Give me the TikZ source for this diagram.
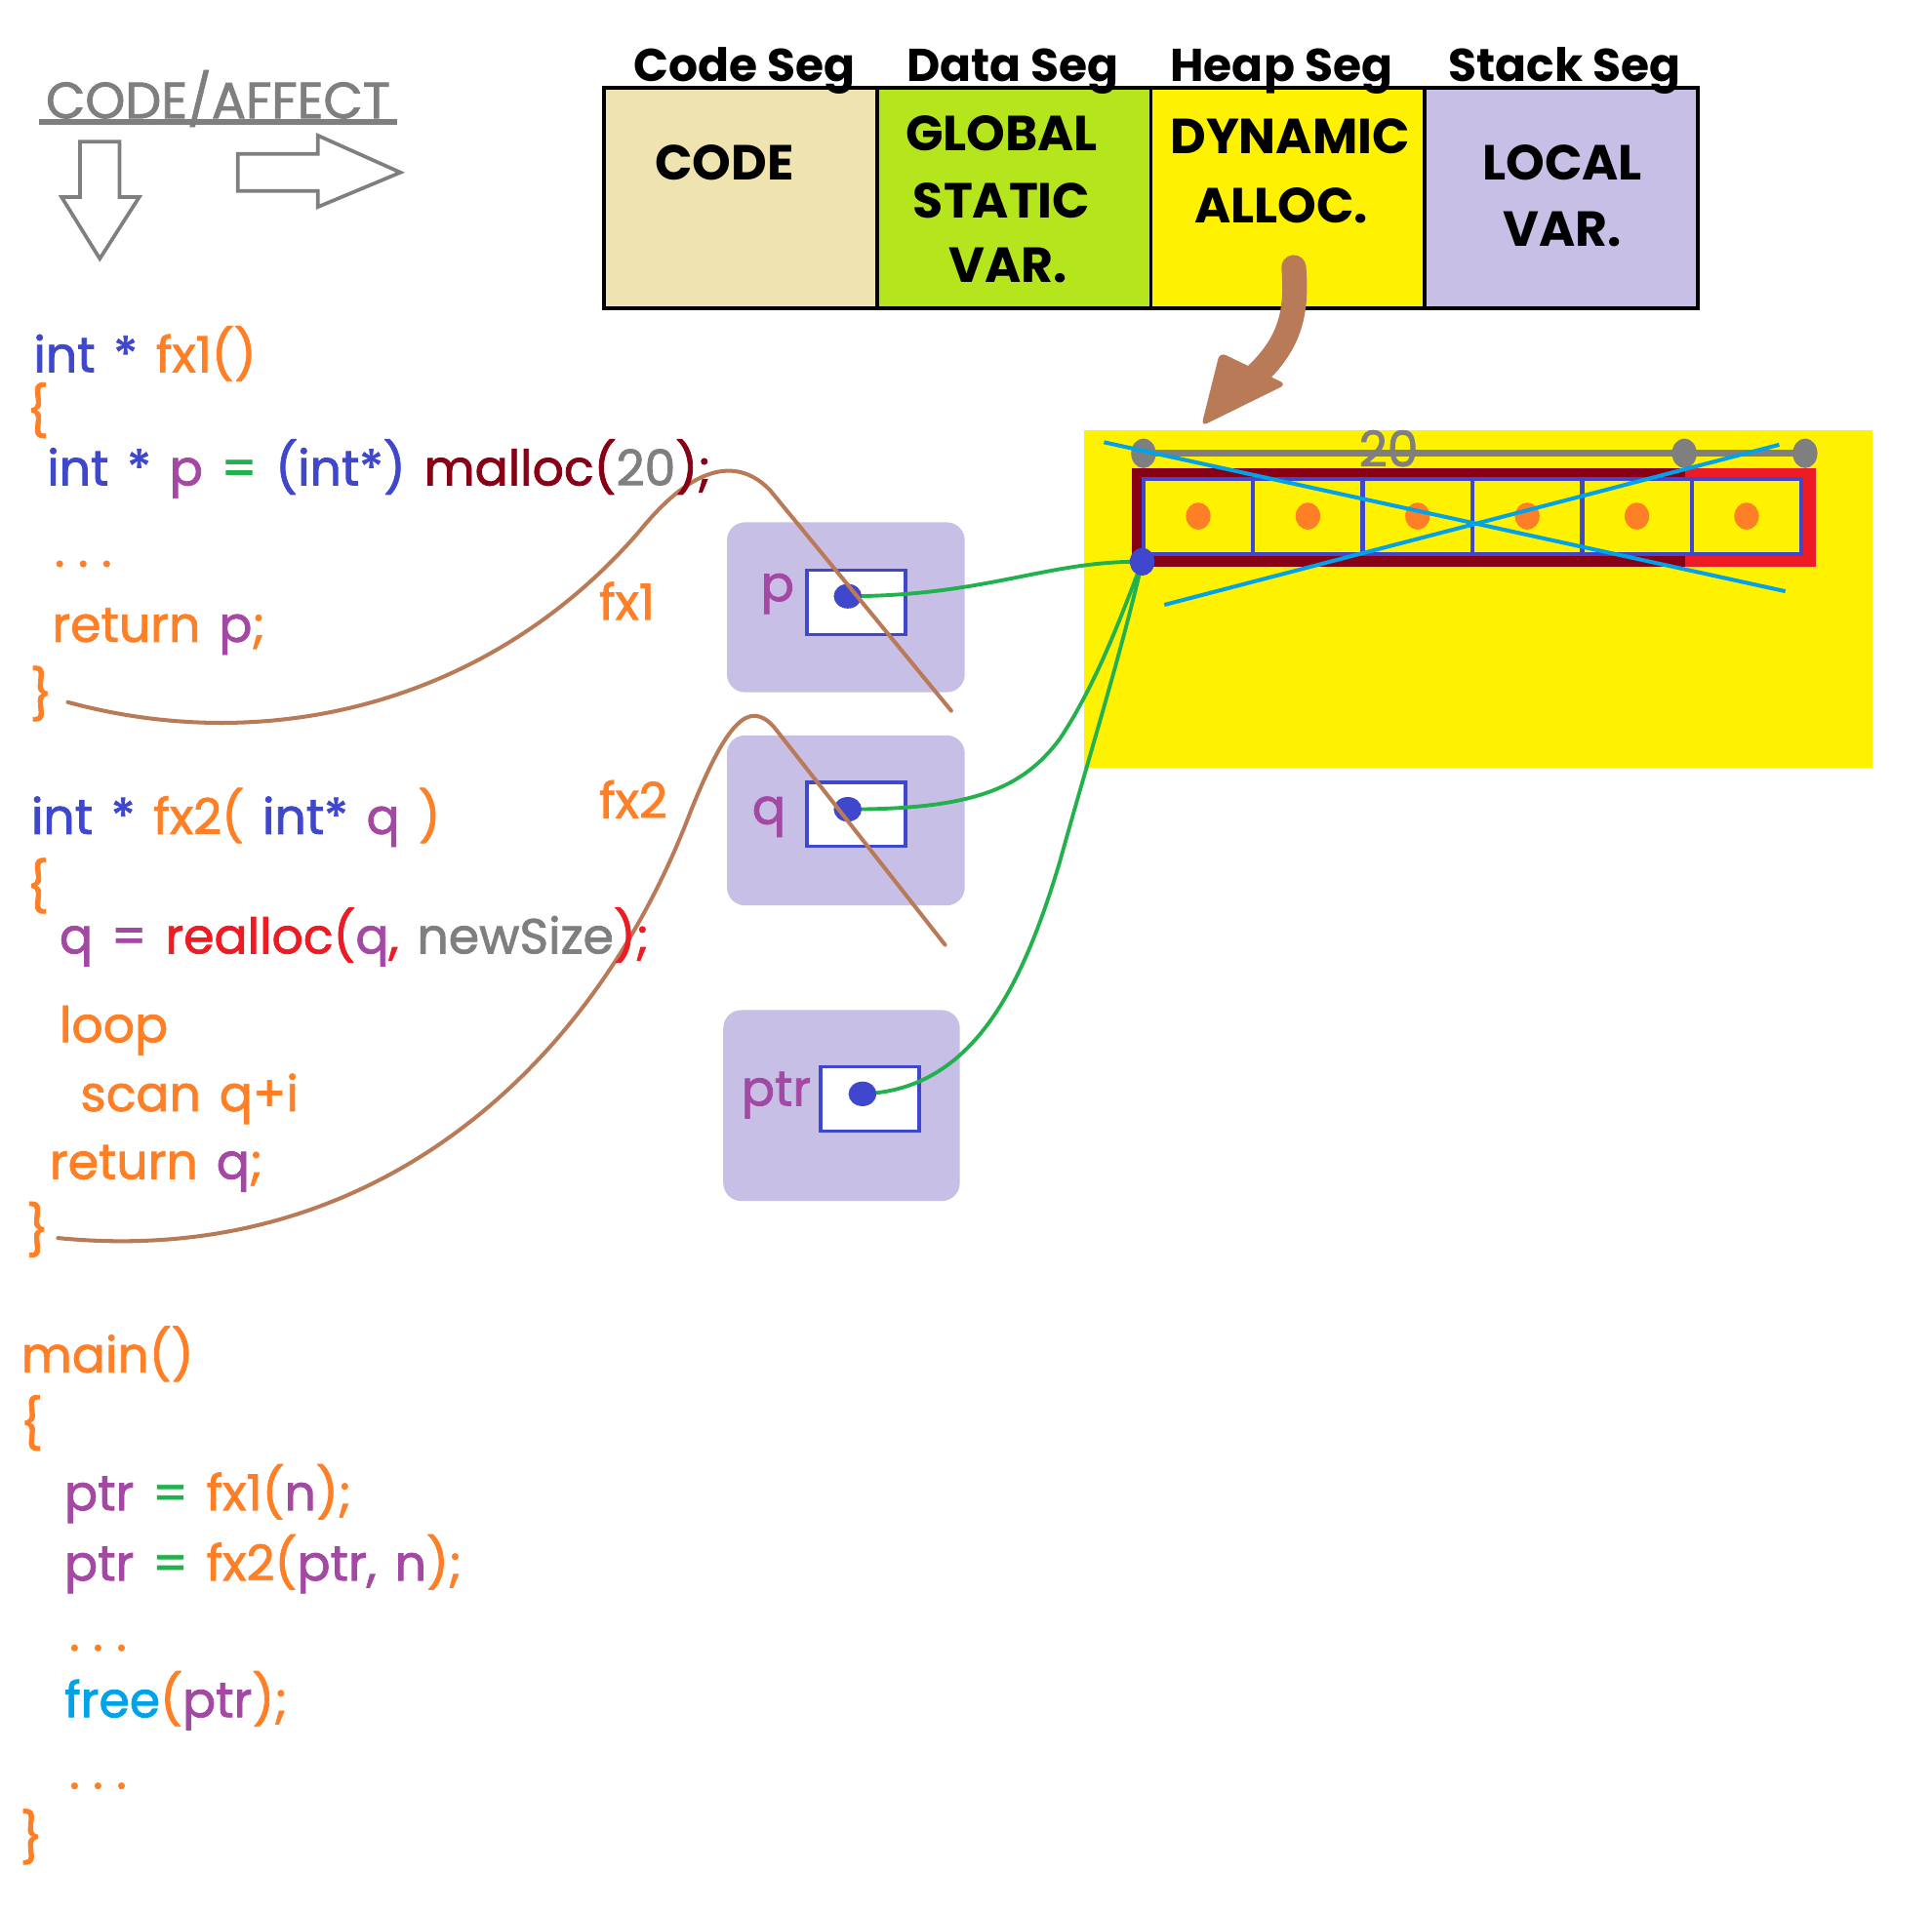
\documentclass[tikz,border=0pt]{standalone}
\usepackage{fontspec}
\setmainfont{Poppins}
\newfontfamily\codefont{Poppins}[FakeBold=1.6, WordSpace=1.4]
\usepackage{tikz}
\usetikzlibrary{positioning, calc, shapes.geometric}

\definecolor{cblue}{RGB}{63,72,204}
\definecolor{corange}{RGB}{255,127,39}
\definecolor{cpurple}{RGB}{163,73,164}
\definecolor{cgreen}{RGB}{34,177,76}
\definecolor{cdred}{RGB}{136,0,21}
\definecolor{cred}{RGB}{237,28,36}
\definecolor{cgray}{RGB}{127,127,127}
\definecolor{ccyan}{RGB}{0,162,232}
\definecolor{cbrown}{RGB}{185,122,87}
\definecolor{cbeige}{RGB}{239,228,176}
\definecolor{clime}{RGB}{181,230,29}
\definecolor{cyellow}{RGB}{255,242,0}
\definecolor{clav}{RGB}{200,191,231}

\newcommand{\ckw}[1]{\textcolor{cblue}{#1}}
\newcommand{\cfn}[1]{\textcolor{corange}{#1}}
\newcommand{\cvr}[1]{\textcolor{cpurple}{#1}}
\newcommand{\ceq}[1]{\textcolor{cgreen}{#1}}
\newcommand{\cnum}[1]{\textcolor{cgray}{#1}}
\newcommand{\cmal}[1]{\textcolor{cdred}{#1}}
\newcommand{\crea}[1]{\textcolor{cred}{#1}}
\newcommand{\cfre}[1]{\textcolor{ccyan}{#1}}
\newcommand{\cdotsep}{\cfn{.\hspace{8pt}.\hspace{8pt}.}}

\tikzset{
	code/.style={anchor=base west, inner sep=0.75pt, font=\codefont\fontsize{30}{32}\selectfont},
	seghead/.style={anchor=base, inner sep=0.75pt, font=\fontsize{28}{30}\selectfont\bfseries},
	segtext/.style={inner sep=0.75pt, font=\fontsize{30}{32}\selectfont\bfseries},
	segbox/.style={draw=black, line width=2.25pt},
	frame/.style={fill=clav, rounded corners=11pt},
	ptrbox/.style={draw=cblue, fill=white, line width=2pt, minimum width=60pt, minimum height=39pt, inner sep=0pt},
	ptrdot/.style={ellipse, fill=cblue, minimum width=17pt, minimum height=15pt, inner sep=0pt},
	ptrline/.style={draw=cgreen, line width=2.3pt},
	vname/.style={inner sep=0.75pt, text=cpurple, font=\codefont\fontsize{30}{32}\selectfont},
	cell/.style={draw=cblue, fill=cyellow, line width=2.6pt},
	crossout/.style={draw=cbrown, line width=2.4pt, line cap=round},
	bigarrow/.style={draw=cgray, line width=2.2pt, line join=miter}
}

\begin{document}
\begin{tikzpicture}[x=0.75pt,y=0.75pt,yscale=-1,xscale=1]
	\useasboundingbox (0,0) rectangle (1568,1552);
	
	% Text Node
	\node[inner sep=0.75pt, text=cgray, font=\codefont\fontsize{31}{32}\selectfont] (legend) at (177,80) {CODE/AFFECT};
	\draw[cgray, line width=3pt] (32,99) -- (322,99);
	%Shape: Down Arrow
	\draw[bigarrow] (65,115) -- (97,115) -- (97,160) -- (113,160) -- (81,210) -- (50,160) -- (65,160) -- cycle;
	%Shape: Right Arrow
	\draw[bigarrow] (193,125) -- (258,125) -- (258,110) -- (325,140) -- (258,168) -- (258,155) -- (193,155) -- cycle;
	
	%Shape: Rectangle [segments]
	\draw[segbox, fill=cbeige] (490,71) rectangle (712,250);
	\draw[segbox, fill=clime] (712,71) rectangle (934,250);
	\draw[segbox, fill=cyellow] (934,71) rectangle (1156,250);
	\draw[segbox, fill=clav] (1156,71) rectangle (1378,250);
	% Text Node
	\node[seghead] (hcode) at (604,66) {Code Seg};
	\node[seghead] (hdata) at (822,66) {Data Seg};
	\node[seghead] (hheap) at (1040,66) {Heap Seg};
	\node[seghead] (hstack) at (1270,66) {Stack Seg};
	% Text Node
	\node[segtext] (tcode) at (588,132) {CODE};
	\node[segtext] (tglobal) at (813,108) {GLOBAL};
	\node[segtext] (tstatic) at (813,163) {STATIC};
	\node[segtext] (tvar) at (818,215) {VAR.};
	\node[segtext] (tdyn) at (1047,111) {DYNAMIC};
	\node[segtext] (talloc) at (1040,167) {ALLOC.};
	\node[segtext] (tlocal) at (1268,132) {LOCAL};
	\node[segtext] (tlvar) at (1268,186) {VAR.};
	
	%Shape: Rectangle [heap area]
	\fill[cyellow] (880,349) rectangle (1520,623);
	%Shape: hand drawn arrow
	\draw[cbrown, line width=15pt, line cap=round] (1050,217) .. controls (1054,265) and (1042,290) .. (995,325);
	\fill[cbrown, rounded corners=4pt] (990,286) -- (1044,312) -- (975,346) -- cycle;
	
	%Shape: Rectangle [block]
	\fill[cdred] (919,380) rectangle (1369,460);
	\fill[cred] (1368,380) rectangle (1474,460);
	\foreach \i in {0,...,5} {
		\draw[cell] ({928+89*\i},389) rectangle ++(89,61);
		\fill[corange] ({972.5+89*\i},419) ellipse [x radius=10, y radius=11];
	}
	%Straight Lines [size bar]
	\draw[cgray, line width=4.5pt] (928,368) -- (1465,368);
	\foreach \x in {928,1367,1465}
		\fill[cgray] (\x,368) ellipse [x radius=10, y radius=12];
	\node[inner sep=0.75pt, text=cgray, font=\codefont\fontsize{30}{32}\selectfont] (size) at (1127,364) {20};
	
	%Shape: Rounded Rectangle [frames]
	\fill[frame] (590,424) rectangle (783,562);
	\fill[frame] (590,597) rectangle (783,735);
	\fill[frame] (587,820) rectangle (779,975);
	\node[ptrbox] (boxp) at (695,489) {};
	\node[ptrbox] (boxq) at (695,661) {};
	\node[ptrbox] (boxptr) at (706,892) {};
	\node[vname] (np) at (631,482) {p};
	\node[vname] (nq) at (624,663) {q};
	\node[vname] (nptr) at (630,889) {ptr};
	
	%Curve Lines [pointers]
	\coordinate (heapstart) at (927,456);
	\draw[ptrline] (688,484) .. controls (800,484) and (850,455) .. (heapstart);
	\draw[ptrline] (688,657) .. controls (790,657) and (830,640) .. (860,600) .. controls (890,555) and (910,500) .. (heapstart);
	\draw[ptrline] (700,888) .. controls (790,885) and (830,800) .. (860,700) .. controls (885,610) and (910,530) .. (heapstart);
	\node[ptrdot] (dotp) at (688,484) {};
	\node[ptrdot] (dotq) at (688,657) {};
	\node[ptrdot] (dotptr) at (700,888) {};
	\node[ellipse, fill=cblue, minimum width=15pt, minimum height=17pt, inner sep=0pt] (heapdot) at (heapstart) {};
	
	%Straight Lines [freed]
	\draw[ccyan, line width=2.4pt] (896,359) -- (1449,480);
	\draw[ccyan, line width=2.4pt] (945,491) -- (1444,361);
	
	%Curve Lines [stack frames popped]
	\draw[crossout] (55,570) .. controls (220,615) and (400,570) .. (520,430) .. controls (565,375) and (600,372) .. (625,398) -- (772,577);
	\draw[crossout] (47,1005) .. controls (300,1030) and (480,870) .. (560,660) .. controls (590,585) and (608,568) .. (628,590) -- (767,767);
	% Text Node
	\node[code, text=corange] (lfx1) at (485,503) {fx1};
	\node[code, text=corange] (lfx2) at (485,664) {fx2};
	
	% Text Node [fx1]
	\node[code] (a1) at (26,302) {\ckw{int * }\cfn{fx1()}};
	\node[code] (a2) at (20,348) {\cfn{\{}};
	\node[code] (a3) at (37,394) {\ckw{int * }\cvr{p} \ceq{=} \ckw{(int*)} \cmal{malloc(}\cnum{20}\cmal{);}};
	\node[code] (a4) at (43,460) {\cdotsep};
	\node[code] (a5) at (41,521) {\cfn{return} \cvr{p}\cfn{;}};
	\node[code] (a6) at (23,578) {\cfn{\}}};
	% Text Node [fx2]
	\node[code] (b1) at (24,677) {\ckw{int * }\cfn{fx2( }\ckw{int* }\cvr{q} \cfn{)}};
	\node[code] (b2) at (20,734) {\cfn{\{}};
	\node[code] (b3) at (47,774) {\cvr{q =} \crea{realloc(}\cvr{q}\crea{,} \cnum{newSize}\crea{);}};
	\node[code] (b4) at (47,846) {\cfn{loop}};
	\node[code] (b5) at (64,902) {\cfn{scan q+i}};
	\node[code] (b6) at (39,957) {\cfn{return} \cvr{q}\cfn{;}};
	\node[code] (b7) at (20,1013) {\cfn{\}}};
	% Text Node [main]
	\node[code] (c1) at (16,1114) {\cfn{main()}};
	\node[code] (c2) at (15,1170) {\cfn{\{}};
	\node[code] (c3) at (51,1226) {\cvr{ptr} \ceq{=} \cfn{fx1(}\cvr{n}\cfn{);}};
	\node[code] (c4) at (51,1283) {\cvr{ptr} \ceq{=} \cfn{fx2(}\cvr{ptr,} \cvr{n}\cfn{);}};
	\node[code] (c5) at (55,1340) {\cdotsep};
	\node[code] (c6) at (51,1394) {\cfre{free}\cfn{(}\cvr{ptr}\cfn{);}};
	\node[code] (c7) at (55,1452) {\cdotsep};
	\node[code] (c8) at (15,1506) {\cfn{\}}};
\end{tikzpicture}
\end{document}
